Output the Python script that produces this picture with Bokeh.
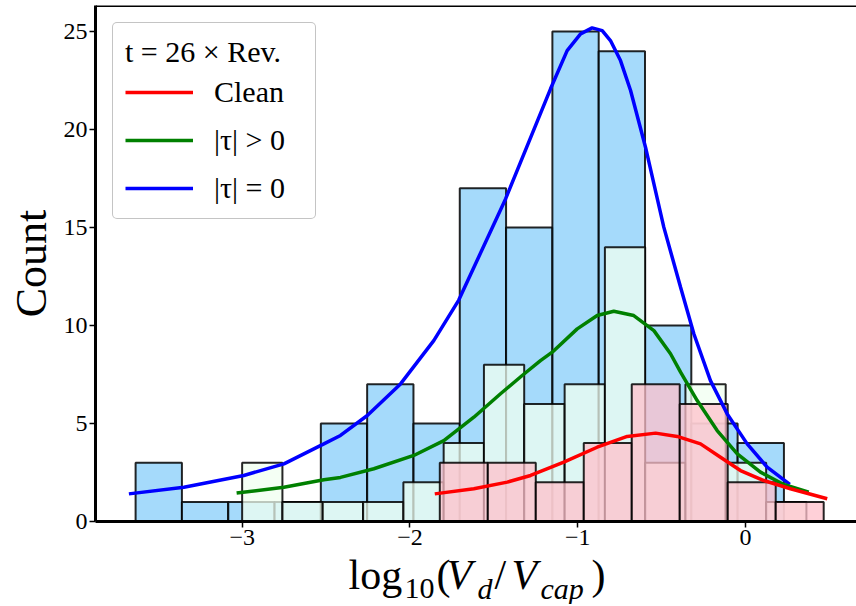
from bokeh.plotting import figure
from bokeh.layouts import column
from bokeh.models import Range1d, FixedTicker, Span, Legend, LegendItem, ColumnDataSource
from bokeh.core.properties import value
from bokeh.embed import file_html
from bokeh.resources import INLINE

# ---------------- data ----------------
# |tau| = 0  (blue)
blue_edges = [-3.635, -3.359, -3.083, -2.807, -2.531, -2.255, -1.979, -1.703,
              -1.427, -1.151, -0.875, -0.599, -0.323, -0.047, 0.229]
blue_counts = [3, 1, 1, 1, 5, 7, 5, 17, 15, 25, 24, 10, 5, 4]

# |tau| > 0  (mint)
mint_edges = [-3.000, -2.760, -2.520, -2.279, -2.039, -1.799, -1.559, -1.319,
              -1.078, -0.838, -0.598, -0.358, -0.118, 0.123, 0.363]
mint_counts = [3, 1, 1, 1, 2, 4, 8, 6, 7, 14, 3, 7, 3, 1]

# Clean  (pink)
pink_edges = [-1.822, -1.536, -1.250, -0.964, -0.678, -0.392, -0.106, 0.180, 0.466]
pink_counts = [3, 3, 2, 4, 7, 6, 2, 1]

# KDE curves
blue_kde_x = [-3.675, -3.347, -2.990, -2.751, -2.513, -2.414, -2.254, -2.056, -1.858,
              -1.709, -1.430, -1.162, -1.063, -0.983, -0.914, -0.854, -0.805, -0.745,
              -0.685, -0.596, -0.487, -0.387, -0.308, -0.209, -0.109, 0.010, 0.129, 0.264]
blue_kde_y = [1.41, 1.75, 2.35, 2.94, 3.96, 4.39, 5.41, 7.02, 9.23,
              11.30, 16.46, 22.08, 24.03, 24.88, 25.19, 25.05, 24.54, 23.52,
              21.99, 19.10, 15.02, 11.95, 9.58, 7.19, 5.49, 3.96, 2.77, 1.89]

green_kde_x = [-3.033, -2.751, -2.513, -2.414, -2.215, -1.977, -1.798, -1.619, -1.460,
               -1.331, -1.222, -1.152, -1.003, -0.884, -0.785, -0.666, -0.546, -0.447,
               -0.387, -0.288, -0.169, -0.049, 0.089, 0.228, 0.377]
green_kde_y = [1.45, 1.75, 2.13, 2.25, 2.69, 3.37, 4.13, 5.32, 6.52,
               7.45, 8.21, 8.64, 9.83, 10.51, 10.73, 10.51, 9.74, 8.56,
               7.62, 6.17, 4.64, 3.45, 2.52, 1.89, 1.50]

red_kde_x = [-1.852, -1.619, -1.420, -1.281, -1.083, -0.884, -0.705, -0.536, -0.407,
             -0.268, -0.149, -0.030, 0.109, 0.268, 0.487]
red_kde_y = [1.41, 1.67, 2.01, 2.35, 3.03, 3.79, 4.34, 4.51, 4.34,
             3.96, 3.28, 2.60, 2.09, 1.67, 1.16]

x_ticks = [-3, -2, -1, 0]
x_tick_labels = ["\u22123", "\u22122", "\u22121", "0"]
y_ticks = [0, 5, 10, 15, 20, 25]

legend_title = "t = 26 \u00d7 Rev."
series_labels = ["Clean", "|\u03c4| > 0", "|\u03c4| = 0"]

# ---------------- main figure ----------------
FONT = "Liberation Serif"
W = 856
X0, X1 = -3.874, 0.6615
Y0, Y1 = 0, 26.33

p = figure(width=W, height=557, output_backend="svg", toolbar_location=None,
           x_range=Range1d(X0, X1), y_range=Range1d(Y0, Y1),
           min_border_left=95, min_border_right=0, min_border_top=5, min_border_bottom=36)
p.outline_line_color = None
p.grid.visible = False
p.background_fill_color = "white"
p.border_fill_color = "white"


def hist(edges, counts, color):
    src = ColumnDataSource(dict(left=edges[:-1], right=edges[1:], top=counts,
                                bottom=[0] * len(counts)))
    p.quad(left="left", right="right", top="top", bottom="bottom", source=src,
           fill_color=color, fill_alpha=0.75, line_color="black", line_width=2,
           line_alpha=0.85)


hist(blue_edges, blue_counts, "#87cefa")
hist(mint_edges, mint_counts, "#f0fff0")
hist(pink_edges, pink_counts, "#ffc0cb")

r_blue = p.line(blue_kde_x, blue_kde_y, line_color="#0000ff", line_width=3.5)
r_green = p.line(green_kde_x, green_kde_y, line_color="#008000", line_width=3.5)
r_red = p.line(red_kde_x, red_kde_y, line_color="#ff0000", line_width=3.5)

for ax in (p.xaxis[0], p.yaxis[0]):
    ax.axis_line_width = 3
    ax.axis_line_color = "black"
    ax.major_tick_line_width = 1.5
    ax.major_tick_line_color = "black"
    ax.major_tick_out = 6
    ax.major_tick_in = 0
    ax.minor_tick_line_color = None
    ax.major_label_text_font = FONT
    ax.major_label_text_font_size = "24px"
    ax.major_label_text_color = "black"
    ax.major_label_standoff = 2

p.xaxis.ticker = FixedTicker(ticks=x_ticks)
p.xaxis.major_label_overrides = {t: s for t, s in zip(x_ticks, x_tick_labels)}
p.yaxis.ticker = FixedTicker(ticks=y_ticks)
p.yaxis.axis_label = "Count"
p.yaxis.axis_label_text_font = FONT
p.yaxis.axis_label_text_font_size = "44px"
p.yaxis.axis_label_text_font_style = "normal"
p.yaxis.axis_label_text_color = "black"
p.yaxis.axis_label_standoff = 5

# top spine
p.add_layout(Span(location=Y1, dimension="width", line_color="black", line_width=3))

# legend
legend = Legend(items=[LegendItem(label=series_labels[0], renderers=[r_red]),
                       LegendItem(label=series_labels[1], renderers=[r_green]),
                       LegendItem(label=series_labels[2], renderers=[r_blue])],
                location="top_left", title=legend_title)
legend.margin = 17
legend.padding = 12
legend.spacing = 12
legend.glyph_width = 68
legend.glyph_height = 36
legend.label_height = 36
legend.label_width = 89
legend.label_standoff = 21
legend.label_text_font = FONT
legend.label_text_font_size = "30px"
legend.label_text_color = "black"
legend.title_text_font = FONT
legend.title_text_font_size = "30px"
legend.title_text_font_style = "normal"
legend.title_text_color = "black"
legend.title_standoff = 5
legend.border_line_color = "#8a8a8a"
legend.border_line_width = 1.2
legend.background_fill_color = "white"
legend.background_fill_alpha = 0.85
try:
    legend.border_radius = 5
except Exception:
    pass
p.add_layout(legend)

# ---------------- x-axis title strip (with subscripts) ----------------
# transparent strip pulled up over the bottom of the main figure; data units = page px
STRIP_TOP, STRIP_BOTTOM, OVERLAP = 527, 604, 30
q = figure(width=W, height=STRIP_BOTTOM - STRIP_TOP, output_backend="svg",
           toolbar_location=None,
           x_range=Range1d(95, W), y_range=Range1d(STRIP_BOTTOM, STRIP_TOP),
           x_axis_location=None, y_axis_location=None,
           min_border_left=0, min_border_right=0, min_border_top=0, min_border_bottom=0)
q.outline_line_color = None
q.grid.visible = False
q.background_fill_alpha = 0
q.border_fill_alpha = 0
try:
    q.margin = (-OVERLAP, 0, 0, 0)
except Exception:
    pass

BASE_SHIFT = 0.24  # measured offset of the rendered baseline, in em


def put(text, px, baseline, size, style="normal"):
    q.text(x=[px], y=[baseline - BASE_SHIFT * size], text=[text], text_font=value(FONT),
           text_font_size=value(f"{size}px"), text_font_style=style, text_color="black",
           text_align="left", text_baseline="alphabetic")


MAIN, SUB = 42, 30
put("log", 348, 585, MAIN)
put("10", 404, 595, SUB)
put("(", 436, 585, MAIN)
put("V", 446, 585, MAIN, "italic")
put("d", 477, 595, SUB, "italic")
put("/", 494, 585, MAIN)
put("V", 511, 585, MAIN, "italic")
put("cap", 540, 595, SUB, "italic")
put(")", 591, 585, MAIN)

layout = column(p, q, spacing=0)
open("out.html", "w").write(file_html(layout, INLINE))
